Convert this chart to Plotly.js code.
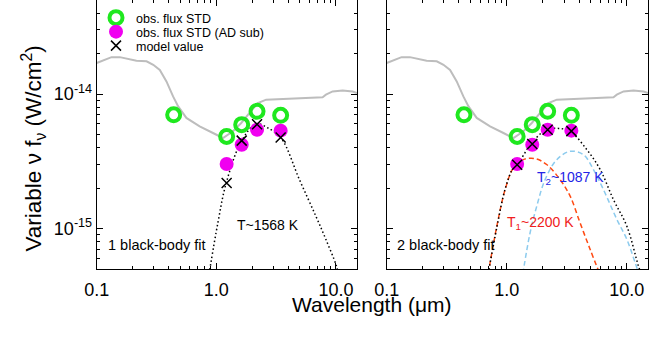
<!DOCTYPE html>
<html>
<head>
<meta charset="utf-8">
<script src="https://cdn.plot.ly/plotly-3.0.1.min.js"></script>
<style>
  html, body { margin: 0; padding: 0; background: #ffffff; }
  #plot { width: 649px; height: 339px; }
</style>
</head>
<body>
<div id="plot"></div>
<script>
// Photometric bands (µm) and observed variable flux (W/cm^2)
const bandWave = [0.44, 1.22, 1.63, 2.19, 3.45];
const obsFlux  = [7.0e-15, 4.84e-15, 5.92e-15, 7.43e-15, 6.94e-15];

// Near-IR bands after accretion-disk subtraction
const nirWave    = [1.22, 1.63, 2.19, 3.45];
const adSubFlux  = [3.02e-15, 4.20e-15, 5.43e-15, 5.34e-15];
const model1Flux = [2.18e-15, 4.50e-15, 5.95e-15, 4.75e-15];
const model2Flux = [2.98e-15, 4.25e-15, 5.43e-15, 5.30e-15];

// Composite spectrum (gray)
const specWave = [0.10, 0.133, 0.156, 0.190, 0.215, 0.261, 0.297, 0.337, 0.383, 0.435, 0.480, 0.562,
                  0.726, 0.938, 1.137, 1.377, 1.616, 1.896, 2.225, 2.61, 3.37, 4.36, 5.62, 6.81,
                  7.74, 8.25, 9.38, 11.37, 13.77, 15.0];
const specFlux = [1.70e-14, 1.88e-14, 1.88e-14, 1.80e-14, 1.77e-14, 1.75e-14, 1.65e-14, 1.51e-14,
                  1.24e-14, 9.6e-15, 8.09e-15, 6.64e-15, 5.75e-15, 5.13e-15, 4.71e-15, 5.28e-15,
                  6.09e-15, 7.23e-15, 8.57e-15, 9.08e-15, 9.18e-15, 9.28e-15, 9.33e-15, 9.44e-15,
                  9.47e-15, 9.88e-15, 1.045e-14, 1.064e-14, 1.045e-14, 1.017e-14];

// Single black-body fit, T ~ 1568 K
const bb1Wave = [0.87, 1.03, 1.21, 1.62, 2.15, 2.69, 3.48, 4.95, 6.81, 8.25, 10.0, 10.5];
const bb1Flux = [4.6e-16, 1.10e-15, 2.18e-15, 4.45e-15, 5.99e-15, 5.6e-15, 4.71e-15, 2.31e-15,
                 1.23e-15, 8.28e-16, 5.4e-16, 4.6e-16];

// Two black-body fit: hot (T1 ~ 2200 K), cool (T2 ~ 1087 K) and their sum
const hotWave = [0.70, 0.826, 0.969, 1.135, 1.375, 1.72, 2.15, 2.78, 3.37, 4.08, 4.95, 5.95];
const hotFlux = [4.6e-16, 1.04e-15, 1.95e-15, 2.82e-15, 3.25e-15, 3.31e-15, 2.99e-15, 2.31e-15,
                 1.74e-15, 1.10e-15, 6.98e-16, 4.6e-16];
const coolWave = [1.36, 1.564, 1.778, 2.085, 2.61, 3.37, 4.35, 5.27, 6.38, 8.25, 10.0, 11.73, 12.6];
const coolFlux = [4.6e-16, 9.3e-16, 1.47e-15, 2.31e-15, 3.25e-15, 3.75e-15, 3.54e-15, 2.74e-15,
                  1.95e-15, 1.17e-15, 8.3e-16, 5.56e-16, 4.6e-16];
const sumWave = [0.70, 0.83, 0.97, 1.135, 1.22, 1.59, 2.13, 2.7, 3.37, 4.64, 6.0, 7.73, 10.0, 12.5, 13.2];
const sumFlux = [4.6e-16, 1.04e-15, 1.97e-15, 2.84e-15, 2.98e-15, 4.25e-15, 5.43e-15, 5.55e-15,
                 5.28e-15, 3.86e-15, 2.74e-15, 1.64e-15, 1.04e-15, 5.25e-16, 4.6e-16];

const xTickVals = [0.1, 1, 10];
const xTickText = ['0.1', '1.0', '10.0'];
const xMinor = [0.2, 0.3, 0.4, 0.5, 0.6, 0.7, 0.8, 0.9, 2, 3, 4, 5, 6, 7, 8, 9];
const yTickVals = [1e-15, 1e-14];
const yTickText = ['10<sup>-15</sup>', '10<sup>-14</sup>'];
const yMinor = [6e-16, 7e-16, 8e-16, 9e-16, 2e-15, 3e-15, 4e-15, 5e-15, 6e-15, 7e-15, 8e-15, 9e-15,
                2e-14, 3e-14, 4e-14];

const W = 649, H = 339;
const GREEN = '#1fe81f', MAGENTA = '#f000f0', GRAY = '#bdbdbd';
const FONT = 'Liberation Sans, Arial, Helvetica, sans-serif';

function panelTraces(xa, ya, fits, withLegend) {
  const traces = [{
    x: specWave, y: specFlux, xaxis: xa, yaxis: ya, mode: 'lines',
    line: { color: GRAY, width: 2 }, showlegend: false, hoverinfo: 'skip'
  }];
  fits.forEach(f => traces.push({
    x: f.x, y: f.y, xaxis: xa, yaxis: ya, mode: 'lines',
    line: { color: f.color, width: 1.5, dash: f.dash, shape: 'spline', smoothing: 1 },
    showlegend: false, hoverinfo: 'skip'
  }));
  traces.push({
    x: bandWave, y: obsFlux, xaxis: xa, yaxis: ya, mode: 'markers', name: 'obs. flux STD',
    marker: { symbol: 'circle-open', size: 13, color: GREEN, line: { width: 4, color: GREEN } },
    showlegend: withLegend, legend: 'legend'
  });
  traces.push({
    x: nirWave, y: adSubFlux, xaxis: xa, yaxis: ya, mode: 'markers', name: 'obs. flux STD (AD sub)',
    marker: { symbol: 'circle', size: 14, color: MAGENTA },
    showlegend: withLegend, legend: 'legend2'
  });
  traces.push({
    x: nirWave, y: withLegend ? model1Flux : model2Flux, xaxis: xa, yaxis: ya, mode: 'markers',
    name: 'model value',
    marker: { symbol: 'x-thin-open', size: 10, color: '#000', line: { width: 1.5, color: '#000' } },
    showlegend: withLegend, legend: 'legend3'
  });
  return traces;
}

const DOT = '1.5px,2.5px', DASH = '5px,3px';
const data = [].concat(
  panelTraces('x', 'y', [{ x: bb1Wave, y: bb1Flux, color: '#000', dash: DOT }], true),
  panelTraces('x2', 'y2', [
    { x: hotWave, y: hotFlux, color: '#ff4a12', dash: DASH },
    { x: coolWave, y: coolFlux, color: '#8ccbee', dash: DASH },
    { x: sumWave, y: sumFlux, color: '#000', dash: DOT }
  ], false)
);

const xBase = {
  type: 'log', range: [-1, Math.log10(15)], tickmode: 'array', tickvals: xTickVals, ticktext: xTickText,
  ticks: 'inside', ticklen: 6, tickwidth: 1, tickcolor: '#000', ticklabelstandoff: 4,
  minor: { tickmode: 'array', tickvals: xMinor, ticks: 'inside', ticklen: 3, tickwidth: 1, tickcolor: '#000' },
  showline: true, mirror: 'ticks', linecolor: '#000', linewidth: 1,
  showgrid: false, zeroline: false, tickfont: { family: FONT, size: 18, color: '#000' }
};
const yBase = {
  type: 'log', range: [Math.log10(5e-16), Math.log10(5e-14)], tickmode: 'array',
  tickvals: yTickVals, ticktext: yTickText,
  ticks: 'inside', ticklen: 6, tickwidth: 1, tickcolor: '#000',
  minor: { tickmode: 'array', tickvals: yMinor, ticks: 'inside', ticklen: 3, tickwidth: 1, tickcolor: '#000' },
  showline: true, mirror: 'ticks', linecolor: '#000', linewidth: 1,
  showgrid: false, zeroline: false, tickfont: { family: FONT, size: 18, color: '#000' },
  domain: [1 - 269 / H, 1]
};

const legendBase = {
  xanchor: 'left', yanchor: 'middle', bgcolor: 'rgba(0,0,0,0)', borderwidth: 0,
  font: { family: FONT, size: 12.5, color: '#000' }, itemwidth: 30
};

function note(text, x, y, opts) {
  return Object.assign({
    text: text, xref: 'paper', yref: 'paper', x: x / W, y: 1 - y / H,
    showarrow: false, font: { family: FONT, size: 14, color: '#000' }
  }, opts || {});
}

const layout = {
  width: W, height: H, margin: { l: 0, r: 0, t: 0, b: 0 },
  paper_bgcolor: '#fff', plot_bgcolor: '#fff',
  xaxis: Object.assign({}, xBase, { domain: [96.7 / W, 357 / W], anchor: 'y' }),
  yaxis: Object.assign({}, yBase, { anchor: 'x' }),
  xaxis2: Object.assign({}, xBase, { domain: [386.7 / W, 648 / W], anchor: 'y2' }),
  yaxis2: Object.assign({}, yBase, { anchor: 'x2', showticklabels: false }),
  legend: Object.assign({}, legendBase, { x: 96 / W, y: 1 - 18 / H }),
  legend2: Object.assign({}, legendBase, { x: 96 / W, y: 1 - 32 / H }),
  legend3: Object.assign({}, legendBase, { x: 96 / W, y: 1 - 46 / H }),
  annotations: [
    note('T~1568 K', 268, 225),
    note('1 black-body fit', 106, 255, { xanchor: 'left', font: { family: FONT, size: 14.5, color: '#000' } }),
    note('2 black-body fit', 395, 255, { xanchor: 'left', font: { family: FONT, size: 14.5, color: '#000' } }),
    note('T<sub>2</sub>~1087 K', 535, 178, { xanchor: 'left', font: { family: FONT, size: 14, color: '#2323e6' } }),
    note('T<sub>1</sub>~2200 K', 505, 223, { xanchor: 'left', font: { family: FONT, size: 14, color: '#f02020' } }),
    note('Variable \u03bd f<sub>\u03bd</sub> (W/cm<sup>2</sup>)', 15, 149,
         { textangle: -90, font: { family: FONT, size: 22.5, color: '#000' } }),
    note('Wavelength (\u03bcm)', 372, 318, { font: { family: FONT, size: 21, color: '#000' } })
  ]
};

Plotly.newPlot('plot', data, layout, { displayModeBar: false, staticPlot: true });
</script>
</body>
</html>
